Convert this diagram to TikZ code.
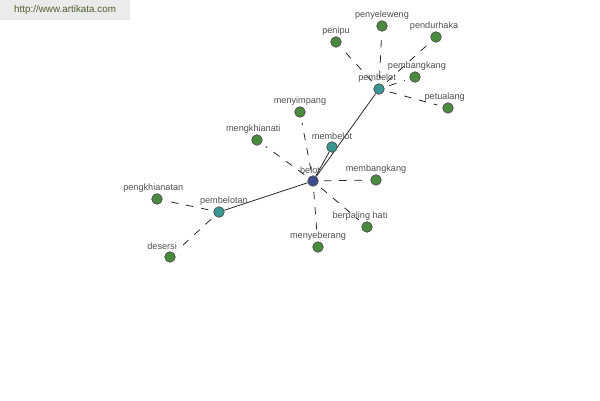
\documentclass[tikz,border=0pt]{standalone}
\usepackage{fontspec}
\setmainfont{Liberation Sans}
\usetikzlibrary{backgrounds}

\definecolor{hubblue}{HTML}{3E4A8E}
\definecolor{midteal}{HTML}{3A9690}
\definecolor{leafgreen}{HTML}{4A8A3E}
\definecolor{labelgray}{HTML}{505050}
\definecolor{urlgreen}{HTML}{4E5F2E}
\definecolor{bargray}{HTML}{EBEBEB}

\begin{document}
\begin{tikzpicture}[
  x=0.02cm, y=-0.02cm,
  label distance=3.2pt,
  dot/.style={circle, draw=black!70, line width=0.4pt, minimum size=6pt, inner sep=0pt},
  hub/.style={dot, fill=hubblue},
  mid/.style={dot, fill=midteal},
  leaf/.style={dot, fill=leafgreen},
  lbl/.style={anchor=center, inner sep=0pt, text=labelgray, font=\fontsize{5.2}{6}\selectfont},
  urlbox/.style={anchor=north west, fill=bargray, minimum width=73.7pt, minimum height=11.3pt, inner sep=0pt, text=urlgreen, font=\fontsize{5.6}{7}\selectfont},
  solidlink/.style={draw=black!85, line width=0.45pt},
  dashlink/.style={draw=black!85, line width=0.45pt, dash pattern=on 4.2pt off 4.5pt, shorten <=3pt, shorten >=3pt}
]
\useasboundingbox (0,0) rectangle (600,400);

\node[urlbox] (url) at (0,0) {http://www.artikata.com};

\node[hub, label={[lbl, xshift=-1.7pt]above:belot}] (belot) at (313,181) {};
\node[mid, label={[lbl]above:membelot}] (membelot) at (332,147) {};
\node[mid, label={[lbl, xshift=-1.1pt]above:pembelot}] (pembelot) at (379,89) {};
\node[mid, label={[lbl, xshift=2.8pt]above:pembelotan}] (pembelotan) at (219,212) {};

\node[leaf, label={[lbl]above:menyimpang}] (menyimpang) at (300,112) {};
\node[leaf, label={[lbl, xshift=-2.1pt]above:mengkhianati}] (mengkhianati) at (257,140) {};
\node[leaf, label={[lbl]above:membangkang}] (membangkang) at (376,180) {};
\node[leaf, label={[lbl, xshift=-4pt]above:berpaling hati}] (berpaling) at (367,227) {};
\node[leaf, label={[lbl]above:menyeberang}] (menyeberang) at (318,247) {};
\node[leaf, label={[lbl, xshift=-2.1pt]above:pengkhianatan}] (pengkhianatan) at (157,199) {};
\node[leaf, label={[lbl, xshift=-4.5pt]above:desersi}] (desersi) at (170,257) {};
\node[leaf, label={[lbl]above:penipu}] (penipu) at (336,42) {};
\node[leaf, label={[lbl]above:penyeleweng}] (penyeleweng) at (382,26) {};
\node[leaf, label={[lbl, xshift=-1.1pt]above:pendurhaka}] (pendurhaka) at (436,37) {};
\node[leaf, label={[lbl, xshift=1.1pt]above:pembangkang}] (pembangkang) at (415,77) {};
\node[leaf, label={[lbl, xshift=-1.9pt]above:petualang}] (petualang) at (448,108) {};

\begin{scope}[on background layer]
  \draw[solidlink] (belot) -- (membelot);
  \draw[solidlink] (belot) -- (pembelot);
  \draw[solidlink] (belot) -- (pembelotan);

  \draw[dashlink] (belot) -- (menyimpang);
  \draw[dashlink] (belot) -- (mengkhianati);
  \draw[dashlink] (belot) -- (membangkang);
  \draw[dashlink] (belot) -- (berpaling);
  \draw[dashlink] (belot) -- (menyeberang);

  \draw[dashlink] (pembelotan) -- (pengkhianatan);
  \draw[dashlink] (pembelotan) -- (desersi);

  \draw[dashlink] (pembelot) -- (penipu);
  \draw[dashlink] (pembelot) -- (penyeleweng);
  \draw[dashlink] (pembelot) -- (pendurhaka);
  \draw[dashlink] (pembelot) -- (pembangkang);
  \draw[dashlink] (pembelot) -- (petualang);
\end{scope}
\end{tikzpicture}
\end{document}
